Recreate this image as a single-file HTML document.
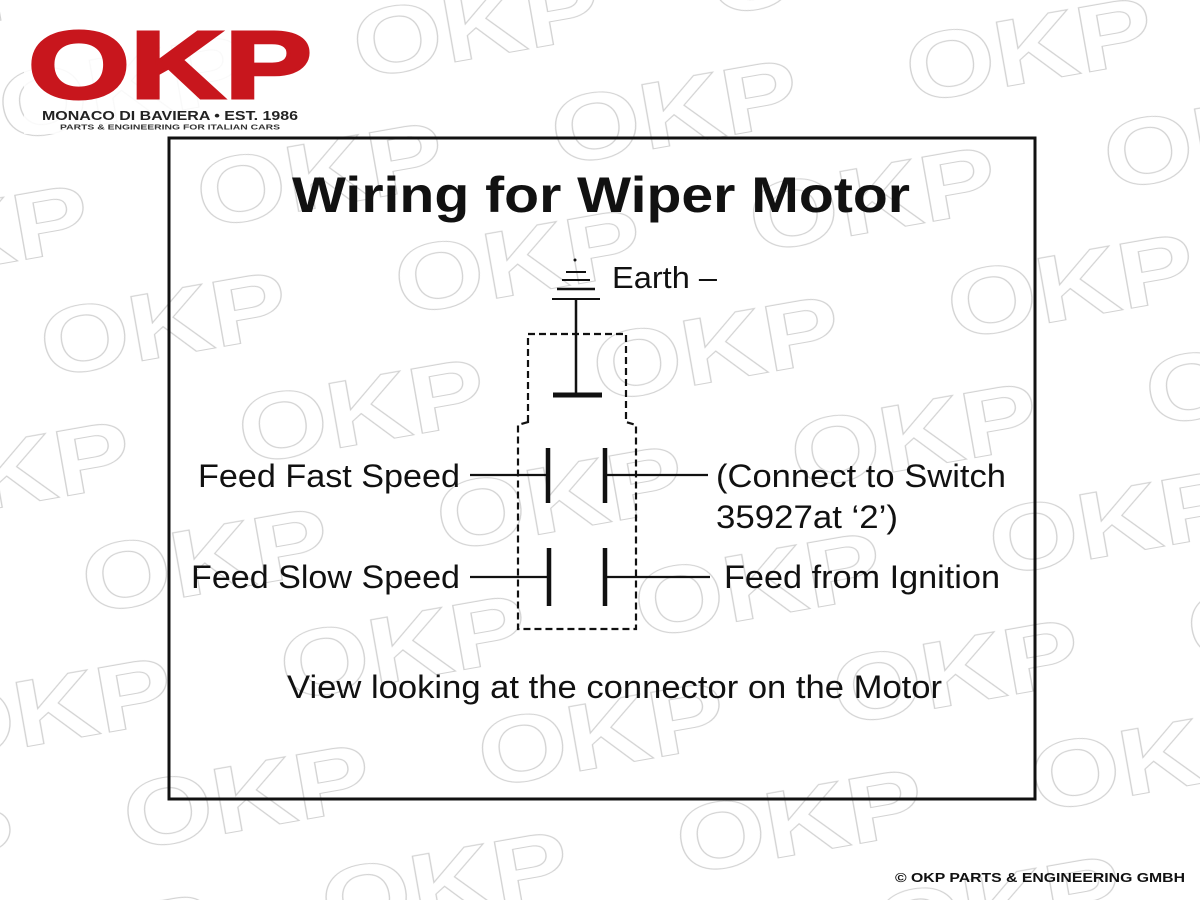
<!DOCTYPE html>
<html><head><meta charset="utf-8"><style>
html,body{margin:0;padding:0;background:#fff;width:1200px;height:900px;overflow:hidden}
svg{display:block}
text{font-family:"Liberation Sans",Arial,sans-serif}
</style></head><body>
<svg width="1200" height="900" viewBox="0 0 1200 900" xmlns="http://www.w3.org/2000/svg">
<rect width="1200" height="900" fill="#fff"/>
<defs>
<pattern id="wm" x="0" y="0" width="360" height="240" patternUnits="userSpaceOnUse" patternTransform="rotate(-10) translate(-20,60)">
<text x="0" y="80" font-weight="bold" font-size="95" textLength="250" lengthAdjust="spacingAndGlyphs" fill="none" stroke="#d2d2d2" stroke-width="1.1">OKP</text>
<text x="180" y="200" font-weight="bold" font-size="95" textLength="250" lengthAdjust="spacingAndGlyphs" fill="none" stroke="#d2d2d2" stroke-width="1.1">OKP</text>
<text x="-180" y="200" font-weight="bold" font-size="95" textLength="250" lengthAdjust="spacingAndGlyphs" fill="none" stroke="#d2d2d2" stroke-width="1.1">OKP</text>
</pattern>
</defs>
<rect width="1200" height="900" fill="url(#wm)"/>

<!-- logo -->
<rect x="24" y="22" width="292" height="112" fill="#fff" opacity="0.85"/>
<text x="28" y="98" font-weight="bold" font-size="96" textLength="284" lengthAdjust="spacingAndGlyphs" fill="#c8161d" stroke="#c8161d" stroke-width="3">OKP</text>
<text x="42" y="120" font-weight="bold" font-size="13" textLength="256" lengthAdjust="spacingAndGlyphs" fill="#222">MONACO DI BAVIERA • EST. 1986</text>
<text x="60" y="129.5" font-weight="bold" font-size="7" textLength="220" lengthAdjust="spacingAndGlyphs" fill="#333">PARTS &amp; ENGINEERING FOR ITALIAN CARS</text>

<!-- frame -->
<rect x="169" y="138" width="866" height="661" fill="none" stroke="#111" stroke-width="3"/>

<g fill="#111">
<text x="292" y="212" font-weight="bold" font-size="50" textLength="618" lengthAdjust="spacingAndGlyphs">Wiring for Wiper Motor</text>
<text x="612" y="288" font-size="31" textLength="105" lengthAdjust="spacingAndGlyphs">Earth –</text>
<text x="198" y="487" font-size="32" textLength="262" lengthAdjust="spacingAndGlyphs">Feed Fast Speed</text>
<text x="191" y="588" font-size="32" textLength="269" lengthAdjust="spacingAndGlyphs">Feed Slow Speed</text>
<text x="716" y="487" font-size="32" textLength="290" lengthAdjust="spacingAndGlyphs">(Connect to Switch</text>
<text x="716" y="528" font-size="32" textLength="182" lengthAdjust="spacingAndGlyphs">35927at ‘2’)</text>
<text x="724" y="588" font-size="32" textLength="276" lengthAdjust="spacingAndGlyphs">Feed from Ignition</text>
<text x="287" y="698" font-size="32" textLength="655" lengthAdjust="spacingAndGlyphs">View looking at the connector on the Motor</text>
</g>

<g stroke="#111" fill="none">
<circle cx="575" cy="260" r="1.5" fill="#111" stroke="none"/>
<line x1="566" y1="272" x2="586" y2="272" stroke-width="2"/>
<line x1="562" y1="280" x2="590" y2="280" stroke-width="2"/>
<line x1="557" y1="289" x2="595" y2="289" stroke-width="2.5"/>
<line x1="552" y1="299" x2="600" y2="299" stroke-width="2"/>
<line x1="576" y1="299" x2="576" y2="395" stroke-width="2.5"/>
<line x1="553" y1="395" x2="602" y2="395" stroke-width="5"/>
<path d="M528 422 L528 334 L626 334 L626 422 L636 425 L636 629 L518 629 L518 425 Z" stroke-width="2.2" stroke-dasharray="7,4"/>
<line x1="470" y1="475" x2="548" y2="475" stroke-width="2.2"/>
<line x1="548" y1="448" x2="548" y2="503" stroke-width="4.5"/>
<line x1="605" y1="448" x2="605" y2="503" stroke-width="4.5"/>
<line x1="605" y1="475" x2="708" y2="475" stroke-width="2.2"/>
<line x1="470" y1="577" x2="548" y2="577" stroke-width="2.2"/>
<line x1="549" y1="548" x2="549" y2="606" stroke-width="4.5"/>
<line x1="605" y1="548" x2="605" y2="606" stroke-width="4.5"/>
<line x1="605" y1="577" x2="710" y2="577" stroke-width="2.2"/>
</g>

<text x="895" y="882" font-weight="bold" font-size="13" textLength="290" lengthAdjust="spacingAndGlyphs" fill="#111">© OKP PARTS &amp; ENGINEERING GMBH</text>
</svg>
</body></html>
